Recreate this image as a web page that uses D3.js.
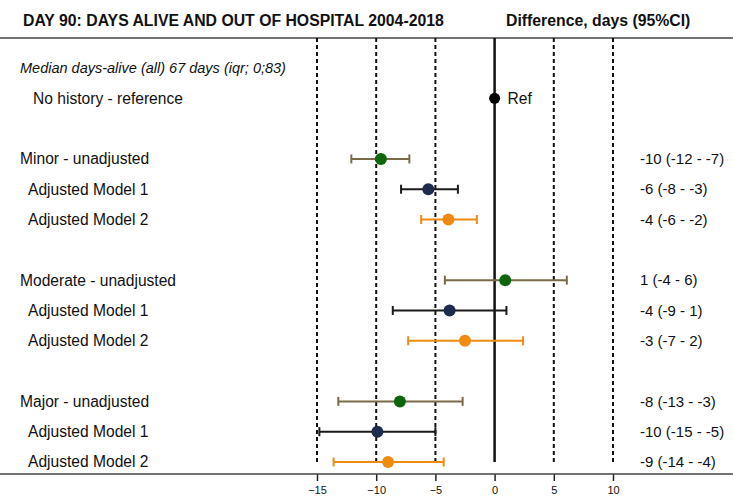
<!DOCTYPE html>
<html>
<head>
<meta charset="utf-8">
<script src="https://cdn.jsdelivr.net/npm/d3@7"></script>
<style>
  html, body { margin: 0; padding: 0; background: #fff; }
  svg { display: block; font-family: "Liberation Sans", Arial, sans-serif; }
</style>
</head>
<body>
<svg id="chart" width="733" height="498"></svg>
<script>
// Row labels, top to bottom (null = blank spacer row)
const rowLabels = [
  "Median days-alive (all) 67 days (iqr; 0;83)",
  "No history - reference",
  null,
  "Minor - unadjusted", "Adjusted Model 1", "Adjusted Model 2",
  null,
  "Moderate - unadjusted", "Adjusted Model 1", "Adjusted Model 2",
  null,
  "Major - unadjusted", "Adjusted Model 1", "Adjusted Model 2"
];
const labelIndent = [0, 1, 0, 0, 1, 1, 0, 0, 1, 1, 0, 0, 1, 1];

// Estimates: row index, model, difference in days and 95% CI
const estRow   = [3, 4, 5, 7, 8, 9, 11, 12, 13];
const estModel = ["unadj", "m1", "m2", "unadj", "m1", "m2", "unadj", "m1", "m2"];
const estValue = [-9.6, -5.6, -3.9,  0.9, -3.8, -2.5,  -8.0, -9.9, -9.0];
const estLower = [-12.1, -7.9, -6.2, -4.2, -8.6, -7.3, -13.2, -14.8, -13.6];
const estUpper = [-7.2, -3.1, -1.5,  6.1,  1.0,  2.4,  -2.7, -5.0, -4.3];

const refRow = 1;
const refValue = 0;

const xTicks = [-15, -10, -5, 0, 5, 10];

const dotColor = { unadj: "#0d660d", m1: "#1d2b4c", m2: "#f08a10" };
const barColor = { unadj: "#7b6a48", m1: "#1a1a1a", m2: "#f08a10" };

const svg = d3.select("#chart");
const W = 733;

const x = d3.scaleLinear().domain([-15, 10]).range([317, 613]);
const y = d3.scaleLinear().domain([0, 13]).range([68, 462]);

const topRule = 38, axisY = 474;

// Titles
svg.append("text").attr("x", 23).attr("y", 26)
  .attr("font-size", 15.8).attr("font-weight", "bold").attr("fill", "#111")
  .text("DAY 90: DAYS ALIVE AND OUT OF HOSPITAL 2004-2018");
svg.append("text").attr("x", 506).attr("y", 26)
  .attr("font-size", 15.8).attr("font-weight", "bold").attr("fill", "#111")
  .text("Difference, days (95%CI)");

// Horizontal rules
svg.append("line").attr("x1", 0).attr("x2", W).attr("y1", topRule).attr("y2", topRule)
  .attr("stroke", "#444").attr("stroke-width", 1.5);

// Vertical reference lines
const gridBottom = y(13);
svg.append("g").selectAll("line").data(xTicks).join("line")
  .attr("x1", d => x(d)).attr("x2", d => x(d))
  .attr("y1", topRule).attr("y2", gridBottom)
  .attr("stroke", "#111")
  .attr("stroke-width", d => d === 0 ? 2.5 : 2)
  .attr("stroke-dasharray", d => d === 0 ? null : "4,3");

// Bottom axis
const axis = svg.append("g").attr("transform", `translate(0,${axisY})`)
  .call(d3.axisBottom(x).tickValues(xTicks).tickSize(7).tickPadding(5).tickFormat(d3.format("d")));
axis.select(".domain").remove();
axis.selectAll(".tick line").attr("stroke", "#222").attr("stroke-width", 1.5);
axis.selectAll(".tick text").attr("font-size", 11).attr("fill", "#111")
  .attr("font-family", "\"Liberation Sans\", Arial, sans-serif");
svg.append("line").attr("x1", 0).attr("x2", W).attr("y1", axisY).attr("y2", axisY)
  .attr("stroke", "#444").attr("stroke-width", 1.5);

// Row labels
svg.append("g").selectAll("text").data(rowLabels.map((t, i) => ({ t, i })).filter(d => d.t))
  .join("text")
  .attr("x", d => labelIndent[d.i] ? (d.i === 1 ? 33 : 28) : 20)
  .attr("y", d => y(d.i))
  .attr("dy", "0.35em")
  .attr("font-size", d => d.i === 0 ? 14.5 : 15.6)
  .attr("font-style", d => d.i === 0 ? "italic" : null)
  .attr("fill", "#111")
  .text(d => d.t);

// Reference point
svg.append("circle").attr("cx", x(refValue)).attr("cy", y(refRow)).attr("r", 5.5).attr("fill", "#000");
svg.append("text").attr("x", x(refValue) + 13).attr("y", y(refRow)).attr("dy", "0.35em")
  .attr("font-size", 15.6).attr("fill", "#111").text("Ref");

// Estimates with CI whiskers
const est = estRow.map((r, i) => ({ r, m: estModel[i], v: estValue[i], lo: estLower[i], hi: estUpper[i] }));
const g = svg.append("g");
const cap = 4.5;
est.forEach(d => {
  const cy = y(d.r), col = barColor[d.m];
  g.append("line").attr("x1", x(d.lo)).attr("x2", x(d.hi)).attr("y1", cy).attr("y2", cy)
    .attr("stroke", col).attr("stroke-width", 2);
  [d.lo, d.hi].forEach(e => g.append("line")
    .attr("x1", x(e)).attr("x2", x(e)).attr("y1", cy - cap).attr("y2", cy + cap)
    .attr("stroke", col).attr("stroke-width", 2));
  g.append("circle").attr("cx", x(d.v)).attr("cy", cy).attr("r", 6).attr("fill", dotColor[d.m]);
});

// Value labels: round half away from zero
const rnd = v => { const r = Math.sign(v) * Math.round(Math.abs(v)); return r === 0 ? 0 : r; };
const fmtCI = d => `${rnd(d.v)} (${rnd(d.lo)} - ${rnd(d.hi)})`;
svg.append("g").selectAll("text").data(est).join("text")
  .attr("x", 640).attr("y", d => y(d.r)).attr("dy", "0.35em")
  .attr("font-size", 15).attr("fill", "#111")
  .text(fmtCI);
</script>
</body>
</html>
